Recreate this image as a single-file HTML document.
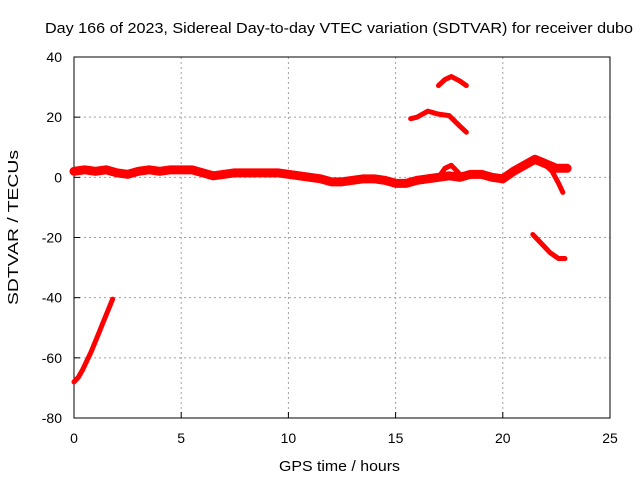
<!DOCTYPE html>
<html><head><meta charset="utf-8"><style>
body{margin:0;background:#fff;}
svg text{font-family:"Liberation Sans",sans-serif;font-size:14px;fill:#000;}
</style></head><body>
<svg id="chart" width="640" height="480" xmlns="http://www.w3.org/2000/svg">
<rect width="640" height="480" fill="#fff"/>
<text x="45" y="33" text-anchor="start" textLength="588" lengthAdjust="spacingAndGlyphs" style="font-size:15px">Day 166 of 2023, Sidereal Day-to-day VTEC variation (SDTVAR) for receiver dubo</text>
<g id="grid"></g>
<rect x="74" y="57" width="536" height="361" fill="none" stroke="#000" stroke-width="1"/>
<g id="series"></g>
<text x="279" y="471" textLength="121" lengthAdjust="spacingAndGlyphs" style="font-size:15px">GPS time / hours</text>
<text transform="translate(18,305) rotate(-90)" textLength="155" lengthAdjust="spacingAndGlyphs" style="font-size:15px">SDTVAR / TECUs</text>
</svg>
<script>
const xTicks=[0,5,10,15,20,25];
const yTicks=[40,20,0,-20,-40,-60,-80];
const seg1Hours=[0,0.2,0.4,0.6,0.8,1.0,1.2,1.4,1.6,1.8];
const seg1Vals=[-68,-66.5,-64,-61,-58,-54.5,-51,-47.5,-44,-40.5];
const bandHours=[0,0.5,1,1.5,2,2.5,3,3.5,4,4.5,5,5.5,6,6.5,7,7.5,8,8.5,9,9.5,10,10.5,11,11.5,12,12.5,13,13.5,14,14.5,15,15.5,16,16.5,17,17.5,18,18.5,19,19.5,20,20.5,21,21.5,22,22.5,23];
const bandVals=[2,2.5,2,2.5,1.5,1,2,2.5,2,2.5,2.5,2.5,1.5,0.5,1,1.5,1.5,1.5,1.5,1.5,1,0.5,0,-0.5,-1.5,-1.5,-1,-0.5,-0.5,-1,-2,-2,-1,-0.5,0,0.5,0,1,1,0,-0.5,2,4,6,4.5,3,3];
const arcHours=[15.7,16,16.5,17,17.5,18,18.3];
const arcVals=[19.5,20,22,21,20.5,17,15];
const topHours=[17,17.3,17.6,18,18.3];
const topVals=[30.5,32.5,33.5,32,30.5];
const bumpHours=[17,17.3,17.6,18];
const bumpVals=[0,3,4,1];
const descHours=[21.4,21.8,22.2,22.6,22.9];
const descVals=[-19,-22,-25,-27,-27];
const dropHours=[22,22.3,22.6,22.8];
const dropVals=[4,2,-2,-5];
const X=h=>74+h*536/25;
const Y=v=>57+(40-v)*361/120;
const NS="http://www.w3.org/2000/svg";
const svg=document.getElementById('chart');
const grid=document.getElementById('grid');
const ser=document.getElementById('series');
function mk(t,a,p){const e=document.createElementNS(NS,t);for(const k in a)e.setAttribute(k,a[k]);p.appendChild(e);return e;}
xTicks.forEach(t=>{
 if(t>0&&t<25){const g=mk('line',{x1:X(t),x2:X(t),y1:57,y2:418,stroke:'#a0a0a0','stroke-dasharray':'2,3'},grid);
 
 }
 const tk=mk('line',{x1:X(t),x2:X(t),y1:418,y2:412,stroke:'#000'},grid);
 
 
 const l=mk('text',{x:X(t),y:443,'text-anchor':'middle'},svg);l.textContent=t;
 
 
});
yTicks.forEach(t=>{
 if(t<40&&t>-80){const g=mk('line',{x1:74,x2:610,y1:Y(t),y2:Y(t),stroke:'#a0a0a0','stroke-dasharray':'2,3'},grid);
 
 }
 const tk=mk('line',{x1:74,x2:80,y1:Y(t),y2:Y(t),stroke:'#000'},grid);
 
 
 const l=mk('text',{x:62,y:Y(t)+5,'text-anchor':'end'},svg);l.textContent=t;
 
 
});
function line(hs,vs,name,w){
 const p=mk('polyline',{points:hs.map((h,i)=>X(h)+','+Y(vs[i])).join(' '),fill:'none',stroke:'#ff0000','stroke-width':w,'stroke-linejoin':'round','stroke-linecap':'round'},ser);
 
 
}
line(seg1Hours,seg1Vals,'series-rising-segment',5);
line(bandHours,bandVals,'series-main-band',9);
line(arcHours,arcVals,'series-upper-arc',5);
line(topHours,topVals,'series-top-arc',5);
line(bumpHours,bumpVals,'series-bump',5);
line(descHours,descVals,'series-descending-segment',5);
line(dropHours,dropVals,'series-drop-segment',5);
</script>
</body></html>
